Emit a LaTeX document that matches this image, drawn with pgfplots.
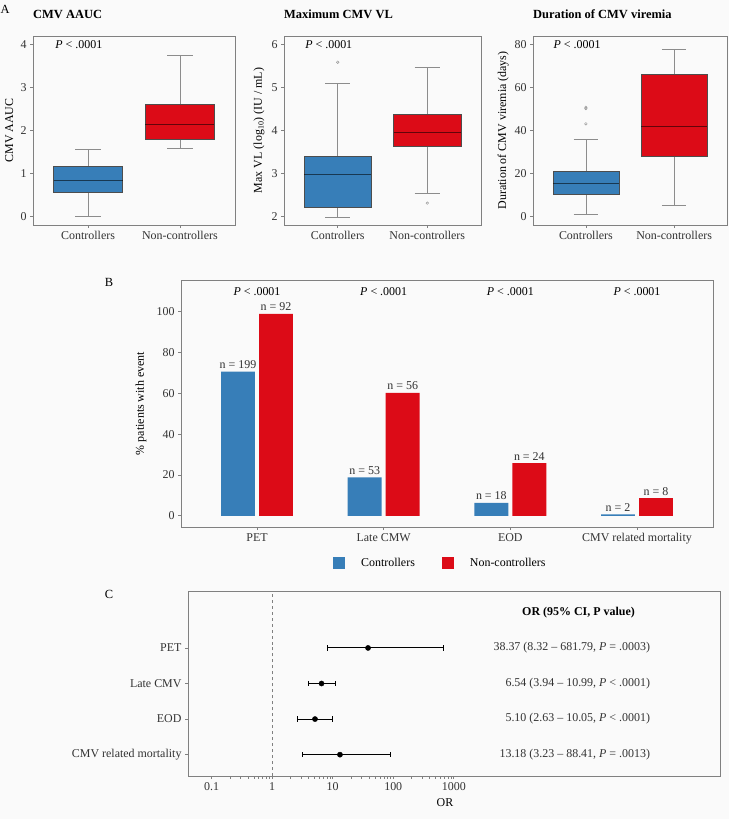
\documentclass[border=0pt]{standalone}
\usepackage{fontspec}
\setmainfont{Liberation Serif}
\usepackage{pgfplots}
\pgfplotsset{compat=1.18}
\usepgfplotslibrary{statistics}

\definecolor{cblue}{HTML}{377EB8}
\definecolor{cred}{HTML}{DC0B17}
\definecolor{bg}{HTML}{FAFAFA}
\definecolor{frame}{HTML}{808080}
\definecolor{wgray}{HTML}{8C8C8C}
\definecolor{edge}{HTML}{4D4D4D}
\newcommand\fs{\fontsize{12}{14}\selectfont}

\pgfplotsset{
  gg/.style={
    scale only axis,
    anchor=north west,
    axis line style={frame, line width=0.6pt},
    tick align=outside,
    major tick length=3bp,
    tick style={frame, line width=0.6pt},
    tick pos=left,
    tick label style={font=\fs, text=black!80},
    label style={font=\fs},
    /pgf/number format/assume math mode=true,
  },
  boxA/.style={
    title style={at={(axis description cs:0,1)}, anchor=base west, yshift=12bp, inner sep=0pt, font=\fontsize{12.5}{14}\selectfont\bfseries},
    xmin=0.4, xmax=2.6,
    xtick={1,2}, xticklabels={Controllers,Non-controllers},
  },
  bx/.style 2 args={
    boxplot prepared={#2, draw direction=y, box extend=0.75, whisker extend=0.28,
      every box/.style={fill=#1, draw=edge, line width=0.5pt},
      every whisker/.style={draw=wgray, line width=0.6pt},
      every median/.style={draw=black, draw opacity=0.55, line width=1.3pt}},
    draw=wgray, mark=o, mark size=1.3bp, mark options={draw=wgray, line width=0.4pt},
  },
}

\begin{document}
\begin{tikzpicture}[font=\fs]
\path[use as bounding box, fill=bg] (0bp,0bp) rectangle (729bp,-819bp);

\node[font=\fontsize{12.5}{14}\selectfont] at (5bp,-9bp) {A};
\node[font=\fontsize{12.5}{14}\selectfont] at (109bp,-282bp) {B};
\node[font=\fontsize{12.5}{14}\selectfont] at (109bp,-594bp) {C};

% A1: CMV AAUC
\begin{axis}[gg, boxA, at={(33bp,-36bp)}, width=202bp, height=189bp,
  ymin=-0.2, ymax=4.2, ytick={0,1,2,3,4},
  title={CMV AAUC},
  ylabel={CMV AAUC}, ylabel style={at={(axis description cs:-0.099,0.5)}, anchor=base}]
\addplot[bx={cblue}{lower whisker=0.01, lower quartile=0.56, median=0.83, upper quartile=1.17, upper whisker=1.57, draw position=1}] coordinates {};
\addplot[bx={cred}{lower whisker=1.58, lower quartile=1.79, median=2.14, upper quartile=2.60, upper whisker=3.75, draw position=2}] coordinates {};
\node at (axis cs:0.9,4) {\textit{P} < .0001};
\end{axis}

% A2: Maximum CMV VL
\begin{axis}[gg, boxA, at={(284bp,-36bp)}, width=197bp, height=189bp,
  ymin=1.8, ymax=6.2, ytick={2,3,4,5,6},
  title={Maximum CMV VL},
  ylabel={Max VL (log\textsubscript{10}) (IU / mL)}, ylabel style={at={(axis description cs:-0.112,0.5)}, anchor=base}]
\addplot[bx={cblue}{lower whisker=1.99, lower quartile=2.21, median=2.98, upper quartile=3.41, upper whisker=5.11, draw position=1}] table[row sep=\\, y index=0] {data\\ 5.59\\};
\addplot[bx={cred}{lower whisker=2.53, lower quartile=3.64, median=3.96, upper quartile=4.37, upper whisker=5.46, draw position=2}] table[row sep=\\, y index=0] {data\\ 2.31\\};
\node at (axis cs:0.9,6) {\textit{P} < .0001};
\end{axis}

% A3: Duration of CMV viremia
\begin{axis}[gg, boxA, at={(533bp,-36bp)}, width=194bp, height=189bp,
  ymin=-4, ymax=84, ytick={0,20,40,60,80},
  title={Duration of CMV viremia},
  ylabel={Duration of CMV viremia (days)}, ylabel style={at={(axis description cs:-0.139,0.5)}, anchor=base}]
\addplot[bx={cblue}{lower whisker=1, lower quartile=10.2, median=15.2, upper quartile=21.1, upper whisker=36.1, draw position=1}] table[row sep=\\, y index=0] {data\\ 43.1\\ 50.2\\ 50.8\\};
\addplot[bx={cred}{lower whisker=5, lower quartile=28.2, median=41.9, upper quartile=66, upper whisker=78, draw position=2}] coordinates {};
\node at (axis cs:0.9,80) {\textit{P} < .0001};
\end{axis}

% B: events
\begin{axis}[gg, at={(181bp,-280bp)}, width=532bp, height=247bp,
  ybar, bar width=0.268,
  xmin=0.4, xmax=4.6, ymin=-5.5, ymax=115.5,
  xtick={1,2,3,4}, xticklabels={PET,Late CMW,EOD,CMV related mortality},
  ytick={0,20,40,60,80,100},
  ylabel={\% patients with event}, ylabel style={at={(axis description cs:-0.07,0.5)}, anchor=base},
  point meta=explicit symbolic,
  nodes near coords, nodes near coords style={font=\fs, anchor=base, yshift=3bp, inner sep=0pt, text=black!80},
  legend style={at={(axis description cs:0.233,-0.146)}, anchor=west, legend columns=2, draw=none, fill=none, font=\fs},
  legend image code/.code={\path (-25bp,0bp) (26bp,0bp); \fill[#1] (0bp,-6bp) rectangle (12bp,6bp);}]
\addplot[fill=cblue, draw=none, bar shift=-0.15] coordinates {(1,70.57) [n = 199] (2,18.79) [n = 53] (3,6.38) [n = 18] (4,0.71) [n = 2]};
\addplot[fill=cred, draw=none, bar shift=0.15] coordinates {(1,98.92) [n = 92] (2,60.22) [n = 56] (3,25.81) [n = 24] (4,8.60) [n = 8]};
\legend{Controllers,Non-controllers}
\node at (axis cs:1,110) {\textit{P} < .0001};
\node at (axis cs:2,110) {\textit{P} < .0001};
\node at (axis cs:3,110) {\textit{P} < .0001};
\node at (axis cs:4,110) {\textit{P} < .0001};
\end{axis}

% C: forest plot
\begin{axis}[gg, at={(188bp,-591bp)}, width=532bp, height=185bp,
  xmode=log, xmin=0.0407, xmax=2.5e7, ymin=0.4, ymax=5.6,
  xtick={0.1,1,10,100,1000}, xticklabels={0.1,1,10,100,1000}, minor xtick={},
  ytick={1,2,3,4}, yticklabels={CMV related mortality,EOD,Late CMV,PET},
  xlabel={OR}, xlabel style={at={(axis description cs:0.483,0)}, anchor=center, yshift=-27bp}]
\addplot[dashed, frame, line width=0.6pt] coordinates {(1,0.4) (1,5.6)};
\addplot[black, line width=1pt, mark=|, mark size=2.6bp, mark options={solid}] coordinates {(8.32,4) (681.79,4)};
\addplot[black, line width=1pt, mark=|, mark size=2.6bp, mark options={solid}] coordinates {(3.94,3) (10.99,3)};
\addplot[black, line width=1pt, mark=|, mark size=2.6bp, mark options={solid}] coordinates {(2.63,2) (10.05,2)};
\addplot[black, line width=1pt, mark=|, mark size=2.6bp, mark options={solid}] coordinates {(3.23,1) (88.41,1)};
\addplot[only marks, mark=*, mark size=2.6bp, black] coordinates {(38.37,4) (6.54,3) (5.10,2) (13.18,1)};
\node[font=\fs\bfseries] at (axis cs:1.15e5,5) {OR (95\% CI, P value)};
\node[anchor=east, text=black!80] at (axis cs:2e6,4) {38.37 (8.32 -- 681.79, \textit{P} = .0003)};
\node[anchor=east, text=black!80] at (axis cs:2e6,3) {6.54 (3.94 -- 10.99, \textit{P} < .0001)};
\node[anchor=east, text=black!80] at (axis cs:2e6,2) {5.10 (2.63 -- 10.05, \textit{P} < .0001)};
\node[anchor=east, text=black!80] at (axis cs:2e6,1) {13.18 (3.23 -- 88.41, \textit{P} = .0013)};
\end{axis}
\end{tikzpicture}
\end{document}
